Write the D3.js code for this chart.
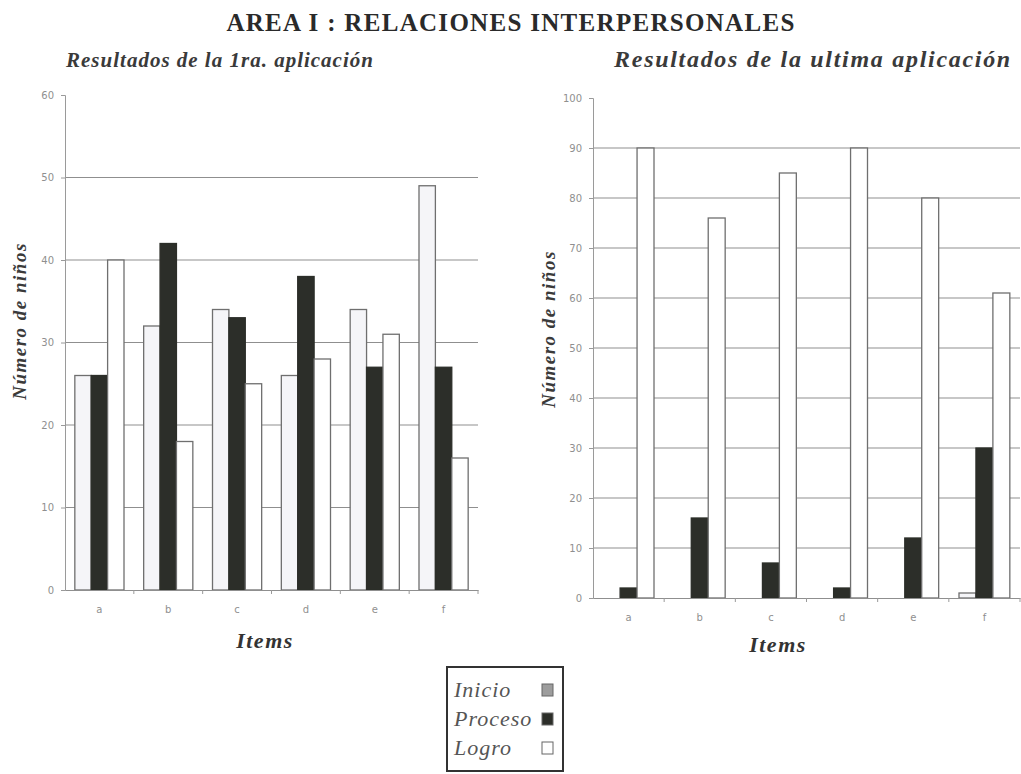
<!DOCTYPE html>
<html>
<head>
<meta charset="utf-8">
<script src="https://cdn.jsdelivr.net/npm/d3@7"></script>
<style>
  body { margin: 0; background: #fff; }
  svg { display: block; }
  .tick text { fill: #8f8f8f; font-family: "DejaVu Sans", sans-serif; font-size: 10px; }
</style>
</head>
<body>
<div id="chart"></div>
<script>
// data
const items = ["a", "b", "c", "d", "e", "f"];
const seriesNames = ["Inicio", "Proceso", "Logro"];
const firstInicio = [26, 32, 34, 26, 34, 49];
const firstProceso = [26, 42, 33, 38, 27, 27];
const firstLogro = [40, 18, 25, 28, 31, 16];
const lastInicio = [0, 0, 0, 0, 0, 1];
const lastProceso = [2, 16, 7, 2, 12, 30];
const lastLogro = [90, 76, 85, 90, 80, 61];
const firstTicks = [0, 10, 20, 30, 40, 50, 60];
const lastTicks = [0, 10, 20, 30, 40, 50, 60, 70, 80, 90, 100];

const colors = { Inicio: "#f5f5f8", Proceso: "#2c2e29", Logro: "#ffffff" };
const serif = "'Liberation Serif', 'DejaVu Serif', serif";

const svg = d3.select("#chart").append("svg")
  .attr("width", 1021)
  .attr("height", 774);

// main title
svg.append("text")
  .attr("x", 511).attr("y", 31)
  .attr("text-anchor", "middle")
  .style("font-family", serif)
  .style("font-weight", "bold")
  .style("font-size", "25px")
  .style("letter-spacing", "1.3px")
  .style("fill", "#2a2a2a")
  .text("AREA I : RELACIONES INTERPERSONALES");

function drawChart(opts) {
  const g = svg.append("g");
  const x = d3.scaleBand().domain(items).range([opts.x0, opts.x1]);
  const xs = d3.scaleBand().domain(seriesNames).range([0, x.bandwidth()]).paddingOuter(0.6);
  const y = d3.scaleLinear().domain([0, opts.max]).range([opts.bottom, opts.top]);

  const rows = items.map((it, i) => ({
    item: it,
    values: seriesNames.map((s, j) => ({ s: s, v: opts.data[j][i] }))
  }));

  // subtitle
  svg.append("text")
    .attr("x", opts.subX).attr("y", 67)
    .attr("text-anchor", "middle")
    .style("font-family", serif)
    .style("font-style", "italic")
    .style("font-weight", "bold")
    .style("font-size", opts.subSize + "px")
    .style("letter-spacing", opts.subSpacing + "px")
    .style("fill", "#3a3a3a")
    .text(opts.subtitle);

  // gridlines
  g.selectAll("line.grid")
    .data(opts.ticks.filter(t => t > 0 && t < opts.max))
    .enter().append("line")
    .attr("class", "grid")
    .attr("x1", opts.x0).attr("x2", opts.x1)
    .attr("y1", d => y(d)).attr("y2", d => y(d))
    .style("stroke", "#8f8f8f")
    .style("stroke-width", 1.2);

  // bars
  const grp = g.selectAll("g.grp").data(rows).enter().append("g")
    .attr("transform", d => "translate(" + x(d.item) + ",0)");
  grp.selectAll("rect")
    .data(d => d.values.filter(v => v.v > 0))
    .enter().append("rect")
    .attr("x", d => xs(d.s))
    .attr("width", xs.bandwidth())
    .attr("y", d => y(d.v))
    .attr("height", d => y(0) - y(d.v))
    .style("fill", d => colors[d.s])
    .style("stroke", d => d.s === "Proceso" ? "#2c2e29" : "#6f6f6f")
    .style("stroke-width", 1.3);

  // y axis
  const ya = g.append("g")
    .attr("transform", "translate(" + opts.x0 + ",0)")
    .call(d3.axisLeft(y).tickValues(opts.ticks).tickSize(4).tickPadding(7));
  ya.select(".domain").style("stroke", "#9a9a9a");
  ya.selectAll(".tick line").style("stroke", "#9a9a9a");

  // x axis
  const xa = g.append("g")
    .attr("transform", "translate(0," + opts.bottom + ")")
    .call(d3.axisBottom(x).tickSize(0).tickPadding(16));
  xa.select(".domain").style("stroke", "#8f8f8f").style("stroke-width", 1.2);
  g.selectAll("line.xt")
    .data(items.slice(1).concat(["end"]))
    .enter().append("line")
    .attr("class", "xt")
    .attr("x1", d => d === "end" ? opts.x1 : x(d))
    .attr("x2", d => d === "end" ? opts.x1 : x(d))
    .attr("y1", opts.bottom).attr("y2", opts.bottom + 4)
    .style("stroke", "#9a9a9a");

  // axis titles
  svg.append("text")
    .attr("transform", "translate(" + opts.yLabX + "," + opts.yLabY + ") rotate(-90)")
    .attr("text-anchor", "middle")
    .style("font-family", serif)
    .style("font-style", "italic")
    .style("font-weight", "bold")
    .style("font-size", "19px")
    .style("letter-spacing", "1.5px")
    .style("fill", "#3a3a3a")
    .text("Número de niños");

  svg.append("text")
    .attr("x", opts.itemsX).attr("y", opts.itemsY)
    .attr("text-anchor", "middle")
    .style("font-family", serif)
    .style("font-style", "italic")
    .style("font-weight", "bold")
    .style("font-size", "22px")
    .style("letter-spacing", "1.5px")
    .style("fill", "#333")
    .text("Items");
}

drawChart({
  data: [firstInicio, firstProceso, firstLogro],
  ticks: firstTicks, max: 60,
  x0: 65, x1: 478, top: 95, bottom: 590,
  subtitle: "Resultados de la 1ra. aplicación", subX: 220, subSize: 21, subSpacing: 1,
  yLabX: 26, yLabY: 321, itemsX: 265, itemsY: 648
});

drawChart({
  data: [lastInicio, lastProceso, lastLogro],
  ticks: lastTicks, max: 100,
  x0: 593, x1: 1020, top: 98, bottom: 598,
  subtitle: "Resultados de la ultima aplicación", subX: 813, subSize: 24, subSpacing: 1.7,
  yLabX: 555, yLabY: 329, itemsX: 778, itemsY: 652
});

// legend
const leg = svg.append("g").attr("transform", "translate(447,667)");
leg.append("rect")
  .attr("width", 116).attr("height", 104)
  .style("fill", "#fff")
  .style("stroke", "#333")
  .style("stroke-width", 2);
const legColors = { Inicio: "#9d9d9d", Proceso: "#2c2e29", Logro: "#ffffff" };
const le = leg.selectAll("g.le").data(seriesNames).enter().append("g")
  .attr("transform", (d, i) => "translate(0," + (23 + i * 29) + ")");
le.append("text")
  .attr("x", 7).attr("y", 7)
  .style("font-family", serif)
  .style("font-style", "italic")
  .style("font-size", "22px")
  .style("letter-spacing", "1px")
  .style("fill", "#555")
  .text(d => d);
le.append("rect")
  .attr("x", 95).attr("y", -6)
  .attr("width", 11).attr("height", 12)
  .style("fill", d => legColors[d])
  .style("stroke", "#666")
  .style("stroke-width", 1);
</script>
</body>
</html>
